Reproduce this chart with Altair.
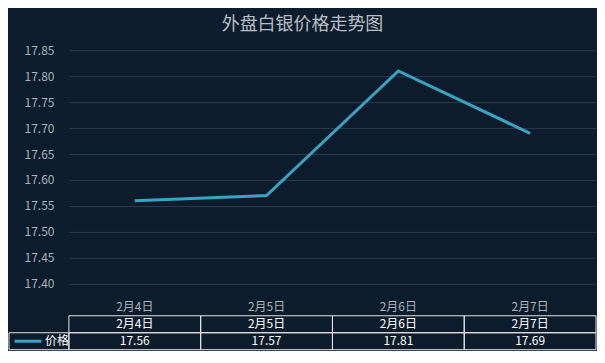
import altair as alt
import pandas as pd

# ---- data ----
dates = ["2月4日", "2月5日", "2月6日", "2月7日"]
prices = [17.56, 17.57, 17.81, 17.69]
series_name = "价格"
header_row = "日期"
y_ticks = [17.40, 17.45, 17.50, 17.55, 17.60, 17.65, 17.70, 17.75, 17.80, 17.85]
y_domain = [17.40, 17.85]
title_text = "外盘白银价格走势图"

# ---- styles ----
BG = "#0c1c2c"
LINE = "#3aa3c2"
GRID = "#2b3b4b"
AXIS_TXT = "#aab2ba"
BORDER = "#e6e6e6"
FONT = "Noto Sans CJK SC"
W = 528
H = 234
TH = 34
LW = 60

df = pd.DataFrame({"date": dates, "price": prices, "series": series_name})

band = alt.Scale(type="band", paddingInner=0, paddingOuter=0)

main = alt.Chart(df).mark_line(color=LINE, strokeWidth=3).encode(
    x=alt.X("date:N", sort=dates, scale=band,
            axis=alt.Axis(title=None, labelColor=AXIS_TXT, labelFontSize=12, labelFont=FONT,
                          labelPadding=18, ticks=False, tickSize=0, domain=False, grid=False,
                          labelAngle=0, labelBaseline="top")),
    y=alt.Y("price:Q", scale=alt.Scale(domain=y_domain, nice=False, zero=False),
            axis=alt.Axis(title=None, values=y_ticks, format=".2f", grid=True, gridColor=GRID,
                          gridWidth=1, domain=False, ticks=False, tickSize=0, labelPadding=15,
                          labelColor=AXIS_TXT, labelFontSize=12, labelFont=FONT)),
).properties(width=W, height=H)

# ---- data table under the chart ----
rows = [header_row, series_name]
table_df = pd.DataFrame({
    "date": dates * 2,
    "row": [header_row] * len(dates) + [series_name] * len(dates),
    "text": dates + [f"{p:.2f}" for p in prices],
})
tx = alt.X("date:N", sort=dates, scale=band, axis=None)
ty = alt.Y("row:N", sort=rows, scale=alt.Scale(type="band", paddingInner=0, paddingOuter=0, domain=rows), axis=None)
cells = alt.Chart(table_df).mark_rect(fillOpacity=0, stroke=BORDER, strokeWidth=1).encode(x=tx, y=ty)
texts = alt.Chart(table_df).mark_text(color="white", fontSize=12, font=FONT).encode(x=tx, y=ty, text="text:N")
table = alt.layer(cells, texts).properties(width=W, height=TH)

leg_df = pd.DataFrame({"col": [series_name], "row": [series_name], "series": [series_name]})
lx = alt.X("col:N", scale=band, axis=None)
leg_cell = alt.Chart(leg_df).mark_rect(fillOpacity=0, stroke=BORDER, strokeWidth=1).encode(x=lx, y=ty)
leg_line = alt.Chart(leg_df).mark_line(strokeWidth=3).encode(
    x=lx, y=ty,
    color=alt.Color("series:N", scale=alt.Scale(domain=[series_name], range=[LINE]),
                    legend=alt.Legend(title=None, orient="none", legendX=7.5, legendY=14,
                                      symbolType="M-1.35,0H1.35", symbolSize=400,
                                      symbolStrokeWidth=3, symbolStrokeColor=LINE,
                                      symbolFillColor="transparent",
                                      symbolOpacity=1, labelColor="white", labelFontSize=12,
                                      labelFont=FONT, labelOffset=5.5, padding=0)),
)
legend_chart = alt.layer(leg_cell, leg_line).properties(width=LW, height=TH)

# empty column that holds the y-axis labels, same width as the legend cell
spacer = alt.Chart(leg_df).mark_rect(opacity=0).encode(x=lx).properties(width=LW, height=H)

top = alt.hconcat(spacer, main, spacing=0, bounds="flush").resolve_scale(
    x="independent", y="independent")
bottom = alt.hconcat(legend_chart, table, spacing=0, bounds="flush").resolve_scale(
    x="independent", y="independent", color="independent").resolve_legend(color="independent")

chart = alt.vconcat(top, bottom, spacing=2).resolve_scale(
    x="independent", y="independent", color="independent").resolve_legend(color="independent").properties(
    title=alt.TitleParams(text=title_text, fontSize=18, color="#b8bec4", font=FONT,
                          fontWeight="normal", anchor="middle", offset=10),
    padding={"left": 0, "top": 8, "right": 0, "bottom": 0},
    background=BG,
).configure_view(stroke=None)

chart.save("out.html", embed_options={"renderer": "svg", "actions": False})
